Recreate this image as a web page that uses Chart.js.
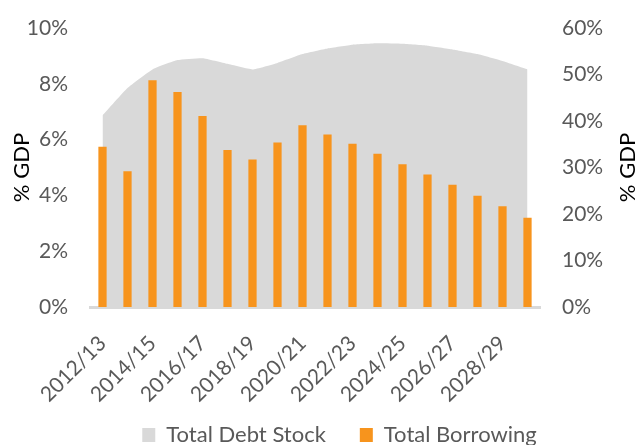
<!DOCTYPE html>
<html>
<head>
<meta charset="utf-8">
<script src="https://cdn.jsdelivr.net/npm/chart.js@4"></script>
<style>
  html, body { margin: 0; padding: 0; background: #fff; }
  #wrap { width: 639px; height: 445px; }
</style>
</head>
<body>
<div id="wrap"><canvas id="chart" width="639" height="445"></canvas></div>
<script>
const years = ["2012/13","2013/14","2014/15","2015/16","2016/17","2017/18","2018/19","2019/20","2020/21",
               "2021/22","2022/23","2023/24","2024/25","2025/26","2026/27","2027/28","2028/29","2029/30"];
const borrowing = [5.74,4.87,8.13,7.71,6.85,5.63,5.29,5.90,6.51,6.18,5.85,5.49,5.12,4.75,4.38,3.99,3.61,3.20];
const debtStock = [41.2,47.1,51.1,53.1,53.5,52.3,51.1,52.5,54.4,55.6,56.4,56.7,56.6,56.2,55.4,54.4,52.9,51.1];
const leftTicks = [0,2,4,6,8,10];
const rightTicks = [0,10,20,30,40,50,60];

const grey = "#595959";
const font = "Lato";

// draws "% GDP" on both sides, reading bottom to top
const sideTitles = {
    id: "sideTitles",
    afterLayout(chart){
        // nudge the legend: a bit right of centre and up, like the original
        const lg = chart.legend;
        lg.left += 20;
        lg.right += 20;
        lg.top -= 17;
        lg.bottom -= 17;
    },
    afterDraw(chart){
        const ctx = chart.ctx, a = chart.chartArea;
        const midY = (a.top + a.bottom) / 2;
        ctx.save();
        ctx.font = "22px " + font;
        ctx.fillStyle = "#000";
        ctx.textAlign = "center";
        ctx.textBaseline = "middle";
        [22, 628].forEach(function(x){
            ctx.save();
            ctx.translate(x, midY);
            ctx.rotate(-Math.PI / 2);
            ctx.fillText("% GDP", 0, 0);
            ctx.restore();
        });
        ctx.restore();
    }
};

// y axes: fixed width, and no extra room reserved above/below for labels
function fitY(width){
    return function(s){
        s.width = width;
        s.paddingTop = 0;
        s.paddingBottom = 0;
    };
}

new Chart(document.getElementById("chart"), {
    data: {
        labels: years,
        datasets: [{
            type: "bar",
            label: "Total Borrowing",
            data: borrowing,
            yAxisID: "y",
            backgroundColor: "#f7941d",
            borderWidth: 0,
            categoryPercentage: 1,
            barPercentage: 0.33,
            order: 1
        }, {
            type: "line",
            label: "Total Debt Stock",
            data: debtStock,
            yAxisID: "y2",
            fill: "origin",
            backgroundColor: "#d9d9d9",
            borderWidth: 0,
            borderColor: "#d9d9d9",
            pointRadius: 0,
            tension: 0.12,
            order: 2
        }]
    },
    options: {
        responsive: false,
        animation: false,
        layout: { padding: { top: 28, left: 0, right: 0, bottom: -28 } },
        plugins: {
            tooltip: { enabled: false },
            legend: {
                position: "bottom",
                reverse: true,
                labels: {
                    font: { family: font, size: 22 },
                    color: grey,
                    boxWidth: 13,
                    boxHeight: 14,
                    padding: 34,
                    generateLabels(chart){
                        return chart.data.datasets.map(function(ds, i){
                            return {
                                text: ds.label,
                                fillStyle: ds.backgroundColor,
                                strokeStyle: ds.backgroundColor,
                                lineWidth: 0,
                                datasetIndex: i,
                                fontColor: grey
                            };
                        });
                    }
                }
            }
        },
        scales: {
            x: {
                offset: true,
                grid: { display: false, drawTicks: false },
                border: { color: "#d9d9d9", width: 3 },
                ticks: {
                    autoSkip: false,
                    maxRotation: 45,
                    minRotation: 45,
                    padding: 24,
                    color: grey,
                    font: { family: font, size: 21 },
                    callback: function(v, i){ return i % 2 === 0 ? years[i] : ""; }
                },
                afterFit: function(s){ s.height = 100; }
            },
            y: {
                position: "left",
                min: 0, max: 10,
                grid: { display: false, drawTicks: false },
                border: { display: false },
                afterBuildTicks: function(s){ s.ticks = leftTicks.map(function(v){ return { value: v }; }); },
                ticks: {
                    padding: 22,
                    color: grey,
                    font: { family: font, size: 21 },
                    callback: function(v){ return v + "%"; }
                },
                afterFit: fitY(90)
            },
            y2: {
                position: "right",
                min: 0, max: 60,
                grid: { display: false, drawTicks: false },
                border: { display: false },
                afterBuildTicks: function(s){ s.ticks = rightTicks.map(function(v){ return { value: v }; }); },
                ticks: {
                    padding: 22,
                    color: grey,
                    font: { family: font, size: 21 },
                    callback: function(v){ return v + "%"; }
                },
                afterFit: fitY(99)
            }
        }
    },
    plugins: [sideTitles]
});
</script>
</body>
</html>
